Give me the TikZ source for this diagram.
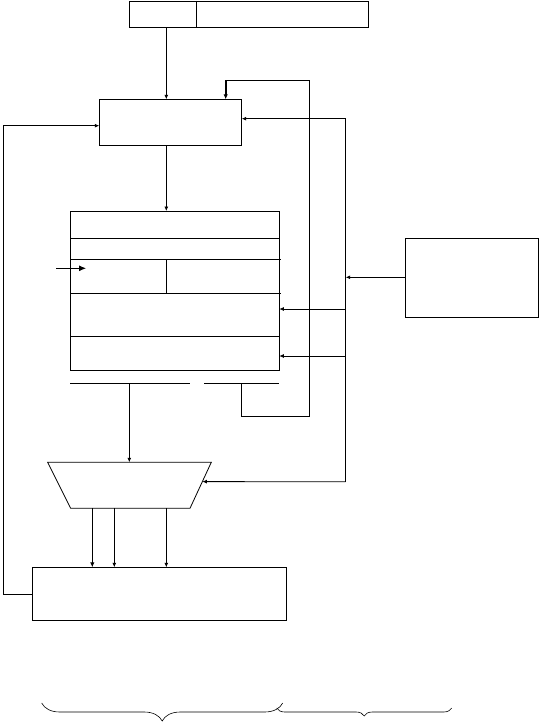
\documentclass[tikz,border=0pt]{standalone}
\usetikzlibrary{arrows.meta,decorations.pathreplacing,calc}
\begin{document}
\begin{tikzpicture}[x=1pt,y=-1pt,line width=0.8pt,
  blk/.style={draw,inner sep=0pt,outer sep=0pt,line width=0.8pt},
  arr/.style={-{Latex[length=4.5pt,width=4pt]}},
  bigarr/.style={-{Latex[length=7pt,width=6pt]}},
  thickarr/.style={line width=1.6pt,-{Latex[length=5pt,width=4.5pt]}},
  brc/.style={decorate,decoration={brace,mirror,amplitude=#1},line width=0.6pt}]
\useasboundingbox (0,0) rectangle (539,723);
% blocks
\node[blk,minimum width=239pt,minimum height=26.5pt] (ir) at (248.8,14.2) {};
\node[blk,minimum width=142.4pt,minimum height=46.4pt] (pc) at (170.5,122.5) {};
\node[blk,minimum width=209pt,minimum height=159.3pt] (rf) at (174.8,290.65) {};
\node[blk,minimum width=133.3pt,minimum height=79pt] (ext) at (471.65,277.8) {};
\node[blk,minimum width=254.4pt,minimum height=53.4pt] (mem) at (159.5,594) {};
% top box divider
\coordinate (xd) at (196.3,0);
\draw (ir.north -| xd) -- (ir.south -| xd);
% register block inner lines
\draw (70.3,238.3) -- (279.3,238.3);
\draw (70.3,259.3) -- (280.7,259.3);
\draw (70.3,293.3) -- (280.7,293.3);
\draw (70.3,336.3) -- (279.3,336.3);
\draw (166.3,259.3) -- (166.3,293.3);
% ALU trapezoid
\coordinate (aluTL) at (47.7,462.3);
\coordinate (aluTR) at (211.3,462.3);
\coordinate (aluBR) at (190,508.3);
\coordinate (aluBL) at (70.7,508.3);
\draw (aluTL) -- (aluTR) -- (aluBR) -- (aluBL) -- cycle;
\coordinate (aluR) at ($(aluTR)!0.42!(aluBR)$);
% output bars under register block
\coordinate (busA1) at (70.3,383.3);
\coordinate (busA2) at (189.7,383.3);
\coordinate (busB1) at (204.3,383.3);
\coordinate (busB2) at (278.7,383.3);
\draw (busA1) -- (busA2);
\draw (busB1) -- (busB2);
% top -> pc
\coordinate (xa) at (166.3,0);
\draw[arr] (ir.south -| xa) -- (pc.north -| xa);
% pc -> register block
\draw[arr] (pc.south -| xa) -- (rf.north -| xa);
% feedback loop into pc
\coordinate (lp1) at (241,416);
\coordinate (lp2) at (309,416);
\coordinate (lp3) at (309,80.3);
\coordinate (lp4) at (225.7,80.3);
\draw (busB1 -| lp1) -- (lp1) -- (lp2) -- (lp3) -- (lp4);
\draw[thickarr] (lp4) -- (pc.north -| lp4);
% right bus
\coordinate (rb1) at (345.7,118.7);
\coordinate (rb2) at (345.7,481.7);
\coordinate (rE) at (345.7,277.3);
\coordinate (r1) at (345.7,309);
\coordinate (r2) at (345.7,356);
\draw (rb1) -- (rb2);
\draw[arr] (rb1) -- (pc.east |- rb1);
\draw[arr] (r1) -- (rf.east |- r1);
\draw[arr] (r2) -- (rf.east |- r2);
\draw[arr] (rb2) -- (aluR);
\draw[arr] (ext.west |- rE) -- (rE);
% left loop
\coordinate (ll1) at (3.7,594);
\coordinate (ll2) at (3.7,125.7);
\draw[arr] (mem.west) -- (ll1) -- (ll2) -- (pc.west |- ll2);
% input arrow into register block
\coordinate (inL) at (56,268.3);
\coordinate (inLtip) at (86,268.3);
\draw[bigarr] (inL) -- (inLtip);
% bus -> ALU
\coordinate (xb) at (129.3,0);
\draw[arr] (busA1 -| xb) -- (aluTL -| xb);
% ALU -> memory
\coordinate (x1) at (92.3,0);
\coordinate (x2) at (114.3,0);
\coordinate (x3) at (166.3,0);
\draw[thickarr] (aluBL -| x1) -- (mem.north -| x1);
\draw[arr] (aluBL -| x2) -- (mem.north -| x2);
\draw[arr] (aluBL -| x3) -- (mem.north -| x3);
% braces
\coordinate (b1s) at (41.7,703);
\coordinate (b1e) at (282.7,703);
\coordinate (b2s) at (276.7,708);
\coordinate (b2e) at (451.7,708);
\draw[brc=18pt] (b1s) -- (b1e);
\draw[brc=8pt] (b2s) -- (b2e);
\end{tikzpicture}
\end{document}
